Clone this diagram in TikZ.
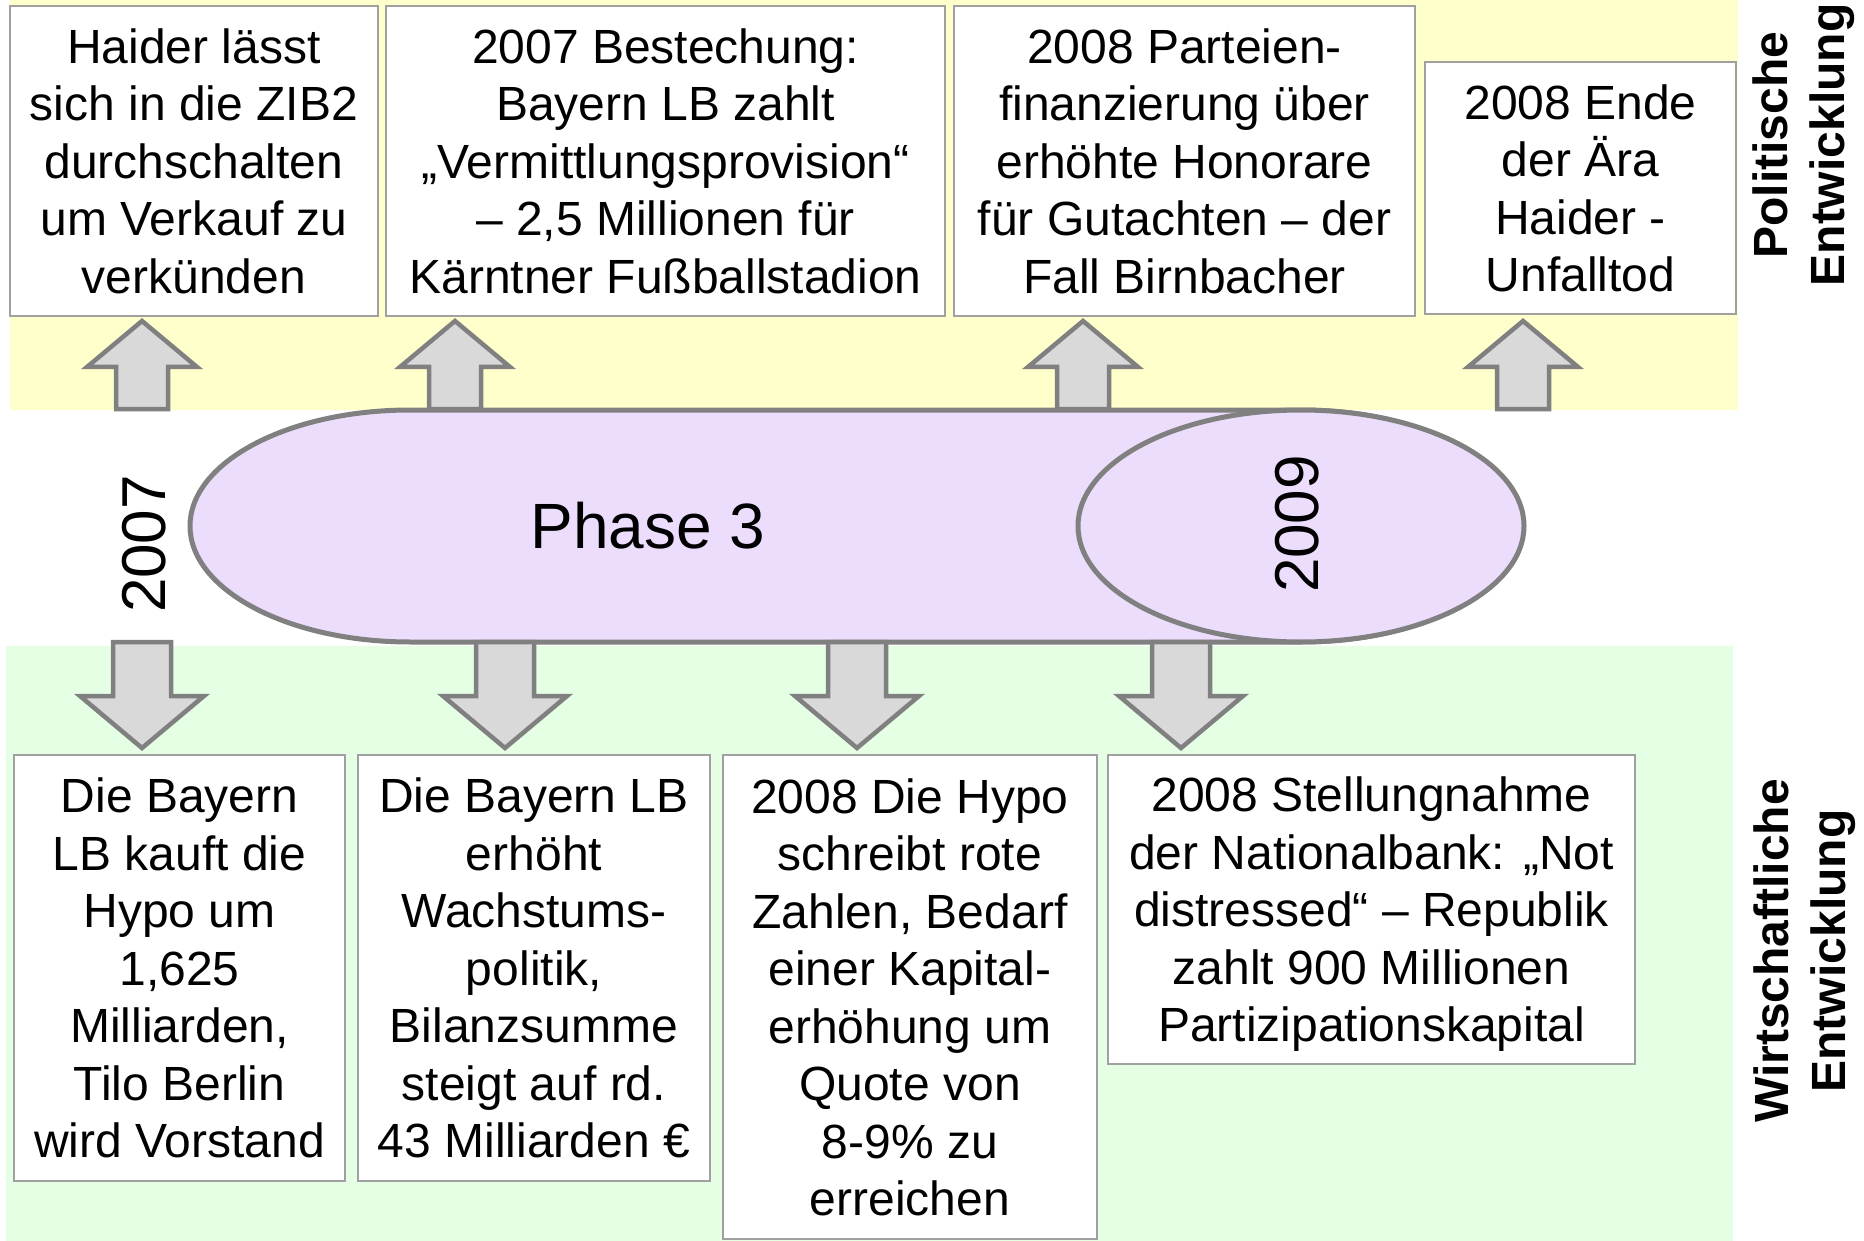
\documentclass[tikz,border=0pt]{standalone}
\usepackage{fontspec}
\setmainfont{Liberation Sans}
\usetikzlibrary{shapes.geometric}
\definecolor{bandyellow}{RGB}{255,255,204}
\definecolor{bandgreen}{RGB}{229,255,229}
\definecolor{lav}{RGB}{236,221,253}
\definecolor{edgegray}{RGB}{128,128,128}
\definecolor{boxgray}{RGB}{160,160,160}
\definecolor{arrfill}{RGB}{217,217,217}
\begin{document}
\begin{tikzpicture}[x=1pt,y=1pt,
  box/.style={draw=boxgray, line width=2pt, fill=white, align=center, inner sep=0pt, text depth=0pt, font=\fontsize{48}{57.5}\selectfont},
  blockarrow/.style={draw=edgegray, fill=arrfill, line width=4.5pt, line join=miter},
  capsule/.style={draw=edgegray, fill=lav, line width=5pt},
  sidelabel/.style={rotate=90, align=center, inner sep=0pt, font=\fontsize{48}{57}\selectfont\bfseries},
  yearlabel/.style={rotate=90, inner sep=0pt, font=\fontsize{62}{70}\selectfont},
  uparr/.pic={\path[blockarrow] (0,0) -- (55,-46) -- (26,-46) -- (26,-88) -- (-26,-88) -- (-26,-46) -- (-55,-46) -- cycle;},
  downarr/.pic={\path[blockarrow] (-29,0) -- (29,0) -- (29,-54) -- (62,-54) -- (0,-106) -- (-62,-54) -- (-29,-54) -- cycle;}
]
\useasboundingbox (0,0) rectangle (1864,-1241);
% bands
\fill[bandyellow] (9.5,0) rectangle (1738,-410);
\fill[bandgreen] (6,-646) rectangle (1733,-1241);
% capsule
\path[capsule] (410,-410) -- (1301,-410)
  arc[start angle=90, end angle=-90, x radius=220pt, y radius=116pt]
  -- (410,-642)
  arc[start angle=-90, end angle=-270, x radius=220pt, y radius=116pt] -- cycle;
\coordinate (caps) at (855,-526);
\node[ellipse, capsule, minimum width=446pt, minimum height=232pt, inner sep=0pt] (e2009) at (1301,-526) {};
\node[yearlabel] (y2009) at (1297,-524) {2009};
\node[yearlabel] (y2007) at (144,-544) {2007};
\node[inner sep=0pt, font=\fontsize{64}{70}\selectfont] (phase) at (648,-526) {Phase 3};
% arrows up
\pic (u1) at (142,-321) {uparr};
\pic (u2) at (455,-321) {uparr};
\pic (u3) at (1083,-321) {uparr};
\pic (u4) at (1523,-321) {uparr};
% arrows down
\pic (d1) at (142,-642) {downarr};
\pic (d2) at (505,-642) {downarr};
\pic (d3) at (857,-642) {downarr};
\pic (d4) at (1181,-642) {downarr};
% top boxes
\node[box, minimum width=368pt, minimum height=310pt] (t1) at (194,-161)
  {Haider lässt\\sich in die ZIB2\\durchschalten\\um Verkauf zu\\verkünden};
\node[box, minimum width=559pt, minimum height=310pt] (t2) at (665.5,-161)
  {2007 Bestechung:\\Bayern LB zahlt\\„Vermittlungsprovision“\\– 2,5 Millionen für\\Kärntner Fußballstadion};
\node[box, minimum width=461pt, minimum height=310pt] (t3) at (1184.5,-161)
  {2008 Parteien-\\finanzierung über\\erhöhte Honorare\\für Gutachten – der\\Fall Birnbacher};
\node[box, minimum width=311pt, minimum height=252pt] (t4) at (1580.5,-188)
  {2008 Ende\\der Ära\\Haider -\\Unfalltod};
% bottom boxes
\node[box, minimum width=331pt, minimum height=426pt] (b1) at (179.5,-968)
  {Die Bayern\\LB kauft die\\Hypo um\\1,625\\Milliarden,\\Tilo Berlin\\wird Vorstand};
\node[box, minimum width=352pt, minimum height=426pt] (b2) at (534,-968)
  {Die Bayern LB\\erhöht\\Wachstums-\\politik,\\Bilanzsumme\\steigt auf rd.\\43 Milliarden €};
\node[box, minimum width=374pt, minimum height=484pt] (b3) at (910,-997)
  {2008 Die Hypo\\schreibt rote\\Zahlen, Bedarf\\einer Kapital-\\erhöhung um\\Quote von\\8-9\% zu\\erreichen};
\node[box, minimum width=527pt, minimum height=309pt] (b4) at (1371.5,-909.5)
  {2008 Stellungnahme\\der Nationalbank: „Not\\distressed“ – Republik\\zahlt 900 Millionen\\Partizipationskapital};
% side labels
\node[sidelabel] (pol) at (1804,-145) {Politische\\Entwicklung};
\node[sidelabel] (wirt) at (1805,-951) {Wirtschaftliche\\Entwicklung};
\end{tikzpicture}
\end{document}
